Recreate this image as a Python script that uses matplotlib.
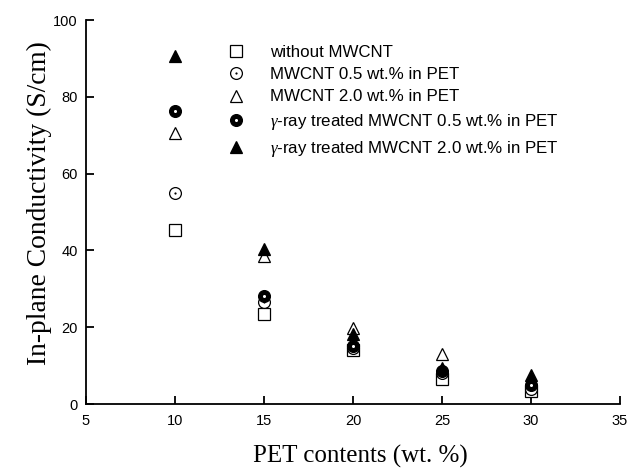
import numpy as np
import matplotlib.pyplot as plt

pet = [10, 15, 20, 25, 30]

without_cnt = [45.3, 23.5, 14.0, 6.6, 3.5]
cnt_05 = [55.0, 26.5, 14.6, 8.0, 4.0]
cnt_20 = [70.5, 38.5, 19.8, 13.0, 6.5]
gamma_05 = [76.4, 28.0, 15.0, 8.6, 5.0]
gamma_20 = [90.6, 40.3, 18.3, 9.3, 7.6]

labels = ['without MWCNT',
          'MWCNT 0.5 wt.% in PET',
          'MWCNT 2.0 wt.% in PET',
          r'$\gamma$-ray treated MWCNT 0.5 wt.% in PET',
          r'$\gamma$-ray treated MWCNT 2.0 wt.% in PET']

plt.rcParams['font.family'] = ['Liberation Sans', 'DejaVu Sans']
plt.rcParams['mathtext.fontset'] = 'custom'
plt.rcParams['mathtext.rm'] = 'Liberation Serif'
plt.rcParams['mathtext.it'] = 'Liberation Serif:italic'

fig = plt.figure(figsize=(6.29, 4.74), dpi=100)
ax = fig.add_axes([86 / 629, 70 / 474, (620 - 86) / 629, (404 - 20) / 474])

ms = 8.5
h1, = ax.plot(pet, without_cnt, 's', ms=ms, mfc='white', mec='black', mew=0.9)
c1, = ax.plot(pet, cnt_05, 'o', ms=ms, mfc='white', mec='black', mew=0.9)
c2, = ax.plot(pet, cnt_05, 'o', ms=1.6, mfc='black', mec='black', mew=0)
h3, = ax.plot(pet, cnt_20, '^', ms=ms + 0.5, mfc='white', mec='black', mew=0.9)
g1, = ax.plot(pet, gamma_05, 'o', ms=ms, mfc='black', mec='black', mew=0.9)
g2, = ax.plot(pet, gamma_05, 'o', ms=2.2, mfc='white', mec='white', mew=0)
h5, = ax.plot(pet, gamma_20, '^', ms=ms + 0.5, mfc='black', mec='black', mew=0.9)

ax.set_xlim(5, 35)
ax.set_ylim(0, 100)
ax.set_xticks([5, 10, 15, 20, 25, 30, 35])
ax.set_yticks([0, 20, 40, 60, 80, 100])
ax.spines['top'].set_visible(False)
ax.spines['right'].set_visible(False)
ax.spines['left'].set_linewidth(1.3)
ax.spines['bottom'].set_linewidth(1.3)
ax.tick_params(direction='in', length=6, width=1.3, labelsize=10.5)
ax.tick_params(axis='x', pad=7)
ax.tick_params(axis='y', pad=6)

ax.set_xlabel('PET contents (wt. %)', family='Liberation Serif', fontsize=18)
ax.set_ylabel('In-plane Conductivity (S/cm)', family='Liberation Serif', fontsize=19.8)
ax.xaxis.set_label_coords(0.513, -0.106)
ax.yaxis.set_label_coords(-0.064, 0.523)

ax.legend([h1, (c1, c2), h3, (g1, g2), h5], labels, loc='upper left',
          bbox_to_anchor=(0.245, 0.952), frameon=False, fontsize=12.2,
          handletextpad=1.25, labelspacing=0.42, handlelength=1.5,
          borderaxespad=0)

fig.savefig('out.png', dpi=100)
